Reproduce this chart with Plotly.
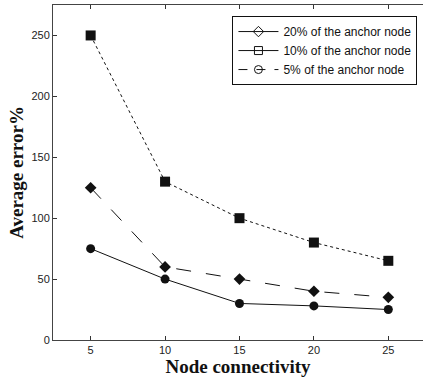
import plotly.graph_objects as go

connectivity = [5, 10, 15, 20, 25]
err_20 = [125, 60, 50, 40, 35]
err_10 = [250, 130, 100, 80, 65]
err_5 = [75, 50, 30, 28, 25]

names = ["20% of the anchor node", "10% of the anchor node", "5% of the anchor node"]

fig = go.Figure()
col = "#111111"
# plotted series
fig.add_trace(go.Scatter(x=connectivity, y=err_20, mode="lines+markers", showlegend=False,
                         line=dict(color=col, width=1, dash="longdash"),
                         marker=dict(symbol="diamond", size=9, color=col)))
fig.add_trace(go.Scatter(x=connectivity, y=err_10, mode="lines+markers", showlegend=False,
                         line=dict(color=col, width=1, dash="dot"),
                         marker=dict(symbol="square", size=10, color=col)))
fig.add_trace(go.Scatter(x=connectivity, y=err_5, mode="lines+markers", showlegend=False,
                         line=dict(color=col, width=1),
                         marker=dict(symbol="circle", size=9, color=col)))
# legend entries (as drawn in the reference legend)
leg_styles = [("diamond-open", "solid"), ("square-open", "solid"), ("circle-open", "dash")]
for n, (sym, d) in zip(names, leg_styles):
    fig.add_trace(go.Scatter(x=[None], y=[None], mode="lines+markers", name=n,
                             line=dict(color=col, width=1, dash=d),
                             marker=dict(symbol=sym, size=8, color=col, line=dict(width=1, color=col))))

fig.update_layout(
    width=423, height=383,
    margin=dict(l=53, r=0, t=5, b=43),
    paper_bgcolor="white", plot_bgcolor="white",
    font=dict(family="Liberation Sans, Arial", size=11, color="#222"),
    legend=dict(x=0.485, y=0.967, xanchor="left", yanchor="top",
                bgcolor="white", bordercolor="#111", borderwidth=1,
                font=dict(family="Liberation Sans, Arial", size=12, color="#111"),
                itemwidth=40, tracegroupgap=0),
    xaxis=dict(range=[2.47, 27.33], tickvals=connectivity, ticks="inside", ticklen=4,
               tickcolor="#333", showline=True, linecolor="#444", linewidth=1, mirror="ticks",
               showgrid=False, zeroline=False,
               title=dict(text="Node connectivity", standoff=4,
                          font=dict(family="Liberation Serif, Times New Roman", size=19, color="#111", weight="bold"))),
    yaxis=dict(range=[0, 275], tickvals=[0, 50, 100, 150, 200, 250], ticks="inside", ticklen=4,
               tickcolor="#333", showline=True, linecolor="#444", linewidth=1,
               showgrid=False, zeroline=False,
               title=dict(text="Average error%", standoff=2,
                          font=dict(family="Liberation Serif, Times New Roman", size=19, color="#111", weight="bold"))),
)
fig.write_html("out.html")
